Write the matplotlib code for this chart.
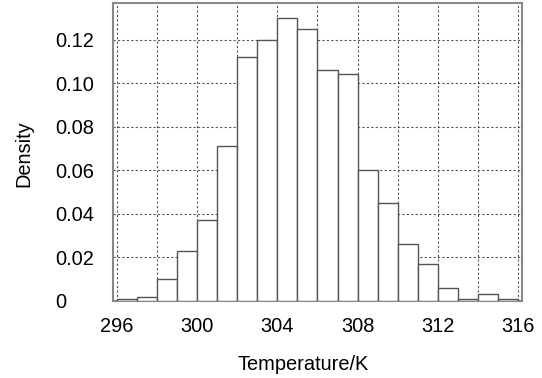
import matplotlib
matplotlib.use('Agg')
import matplotlib.pyplot as plt
from matplotlib.ticker import MultipleLocator

plt.rcParams['font.family'] = ['Liberation Sans', 'DejaVu Sans']

# left edges of the 1 K bins
bin_left = [296, 297, 298, 299, 300, 301, 302, 303, 304, 305,
            306, 307, 308, 309, 310, 311, 312, 313, 314, 315]
density = [0.001, 0.002, 0.010, 0.023, 0.037, 0.071, 0.112, 0.120, 0.130, 0.125,
           0.106, 0.104, 0.060, 0.045, 0.026, 0.017, 0.006, 0.001, 0.003, 0.001]

x_ticks = [296, 300, 304, 308, 312, 316]
y_ticks = [0, 0.02, 0.04, 0.06, 0.08, 0.10, 0.12]
y_labels = ['0', '0.02', '0.04', '0.06', '0.08', '0.10', '0.12']

fig = plt.figure(figsize=(5.42, 3.78), dpi=100)
ax = fig.add_axes([0.209, 0.204, 0.7535, 0.789])

ax.bar(bin_left, density, width=1, align='edge', color='white',
       edgecolor='#555555', linewidth=1.0, zorder=3)

ax.set_xlim(295.83, 316.17)
ax.set_ylim(0, 0.137)

ax.set_xticks(x_ticks)
ax.xaxis.set_minor_locator(MultipleLocator(2))
ax.set_yticks(y_ticks)
ax.set_yticklabels(y_labels)

ax.grid(True, which='both', axis='x', linestyle=(0, (2, 2)), color='#555555', linewidth=0.8, zorder=0)
ax.grid(True, which='major', axis='y', linestyle=(0, (2, 2)), color='#555555', linewidth=0.8, zorder=0)

ax.tick_params(which='both', length=0, labelsize=14.4)
ax.tick_params(axis='x', pad=11.5)
ax.tick_params(axis='y', pad=42)
for lab in ax.get_yticklabels():
    lab.set_horizontalalignment('left')

for s in ax.spines.values():
    s.set_color('#888888')
    s.set_linewidth(1.5)

ax.set_xlabel('Temperature/K', fontsize=14.4, va='center')
ax.xaxis.set_label_coords(0.4645, -0.212)
ax.set_ylabel('Density', fontsize=14.4, va='center')
ax.yaxis.set_label_coords(-0.2187, 0.4925)

plt.savefig('out.png', dpi=100)
